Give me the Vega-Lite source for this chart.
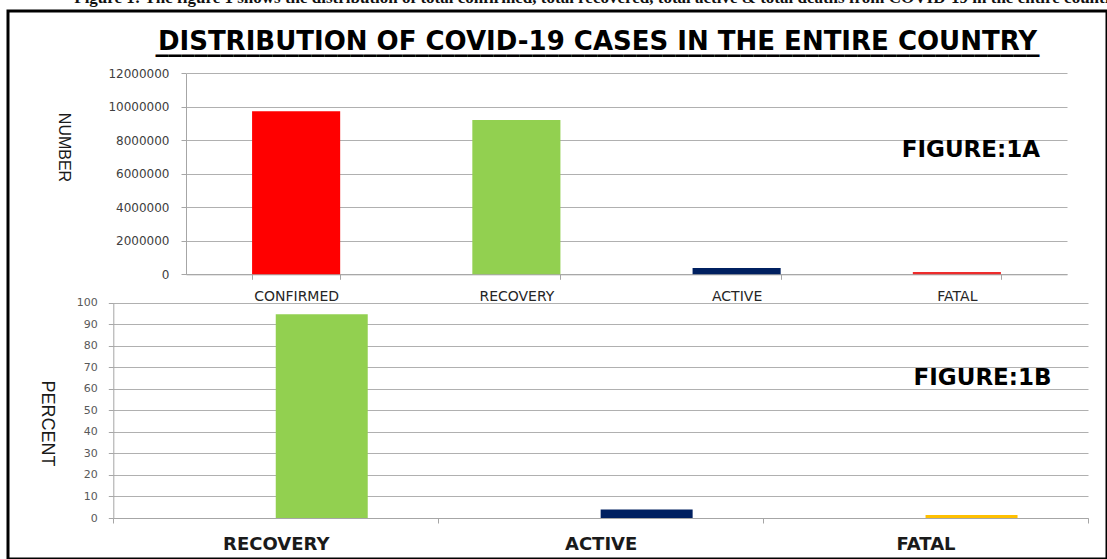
{
  "$schema": "https://vega.github.io/schema/vega-lite/v6.json",
  "width": 1099,
  "height": 548,
  "autosize": "none",
  "padding": {"left": 8, "top": 11, "right": 0, "bottom": 0},
  "background": "white",
  "config": {
    "view": {"stroke": "black", "strokeWidth": 3},
    "axis": {
      "domainColor": "#a6a6a6",
      "tickColor": "#a6a6a6",
      "gridColor": "#b0b0b0",
      "gridWidth": 1,
      "tickSize": 5,
      "labelFont": "DejaVu Sans",
      "titleFont": "Liberation Sans",
      "titleFontWeight": "normal",
      "titleColor": "#1a1a1a"
    }
  },
  "title": {
    "text": "Figure 1: The figure 1 shows the distribution of total confirmed, total recovered, total active & total deaths from COVID-19 in the entire country",
    "subtitle": [
      "DISTRIBUTION OF COVID-19 CASES IN THE ENTIRE COUNTRY",
      "____________________________________________________________________"
    ],
    "anchor": "middle",
    "frame": "group",
    "orient": "top",
    "dx": 40,
    "offset": -46,
    "font": "Liberation Serif",
    "fontSize": 17,
    "fontWeight": "bold",
    "color": "#111111",
    "subtitleFont": "DejaVu Sans",
    "subtitleFontSize": 26,
    "subtitleFontWeight": "bold",
    "subtitleColor": "#000000",
    "subtitleLineHeight": 1,
    "subtitlePadding": 22
  },
  "datasets": {
    "counts": [
      {"case": "CONFIRMED", "count": 9735850},
      {"case": "RECOVERY", "count": 9215581},
      {"case": "ACTIVE", "count": 378909},
      {"case": "FATAL", "count": 141360}
    ],
    "percent": [
      {"case": "RECOVERY", "pct": 94.66},
      {"case": "ACTIVE", "pct": 3.89},
      {"case": "FATAL", "pct": 1.45}
    ]
  },
  "layer": [
    {
      "layer": [
        {
          "data": {"name": "counts"},
          "mark": {"type": "bar"},
          "encoding": {
            "x": {
              "field": "case",
              "type": "nominal",
              "sort": ["CONFIRMED", "RECOVERY", "ACTIVE", "FATAL"],
              "scale": {"range": [178, 1059], "paddingInner": 0.6, "paddingOuter": 0.3},
              "axis": {
                "orient": "bottom",
                "offset": -284.7,
                "title": null,
                "labelAngle": 0,
                "tickBand": "extent",
                "labelFontSize": 14,
                "labelColor": "#262626",
                "labelPadding": 10,
                "labelBaseline": "top"
              }
            },
            "y": {
              "field": "count",
              "type": "quantitative",
              "scale": {"domain": [0, 12000000], "range": [263.3, 62.3], "nice": false, "zero": true},
              "axis": {
                "orient": "left",
                "offset": -178,
                "values": [0, 2000000, 4000000, 6000000, 8000000, 10000000, 12000000],
                "format": "d",
                "grid": true,
                "labelFontSize": 12,
                "labelColor": "#404040",
                "labelPadding": 12,
                "title": "NUMBER",
                "titleAngle": 90,
                "titleFontSize": 16,
                "titleX": -123,
                "titleY": 136,
                "titleAlign": "center",
                "titleBaseline": "middle"
              }
            },
            "color": {
              "field": "case",
              "type": "nominal",
              "scale": {
                "domain": ["CONFIRMED", "RECOVERY", "ACTIVE", "FATAL"],
                "range": ["#ff0000", "#92d050", "#002060", "#ee2c2c"]
              },
              "legend": null
            }
          }
        },
        {
          "data": {"values": [{"label": "FIGURE:1A"}]},
          "mark": {"type": "text", "font": "DejaVu Sans", "fontWeight": "bold", "fontSize": 23, "align": "center", "baseline": "middle", "dx": 14, "color": "#000000"},
          "encoding": {
            "x": {"datum": "FATAL", "type": "nominal"},
            "y": {"datum": 7400000, "type": "quantitative"},
            "text": {"field": "label", "type": "nominal"}
          }
        }
      ]
    },
    {
      "layer": [
        {
          "data": {"name": "percent"},
          "mark": {"type": "bar"},
          "encoding": {
            "x": {
              "field": "case",
              "type": "nominal",
              "sort": ["RECOVERY", "ACTIVE", "FATAL"],
              "scale": {"range": [105.3, 1080], "paddingInner": 0, "paddingOuter": 0},
              "axis": {
                "orient": "bottom",
                "offset": -41,
                "title": null,
                "labelAngle": 0,
                "tickBand": "extent",
                "labelFontSize": 18,
                "labelFontWeight": "bold",
                "labelColor": "#1a1a1a",
                "labelPadding": 12,
                "labelBaseline": "top"
              }
            },
            "xOffset": {
              "datum": "PERCENT",
              "type": "nominal",
              "scale": {"domain": ["NUMBER", "PERCENT"], "paddingInner": 0, "paddingOuter": 0.766}
            },
            "y": {
              "field": "pct",
              "type": "quantitative",
              "scale": {"domain": [0, 100], "range": [507, 291.7], "nice": false},
              "axis": {
                "orient": "left",
                "offset": -105.3,
                "values": [0, 10, 20, 30, 40, 50, 60, 70, 80, 90, 100],
                "grid": true,
                "labelFontSize": 11,
                "labelColor": "#595959",
                "labelPadding": 11,
                "title": "PERCENT",
                "titleAngle": 90,
                "titleFontSize": 18,
                "titleX": -67,
                "titleY": 412,
                "titleAlign": "center",
                "titleBaseline": "middle"
              }
            },
            "color": {
              "field": "case",
              "type": "nominal",
              "scale": {
                "domain": ["RECOVERY", "ACTIVE", "FATAL"],
                "range": ["#92d050", "#002060", "#ffc000"]
              },
              "legend": null
            }
          }
        },
        {
          "data": {"values": [{"label": "FIGURE:1B"}]},
          "mark": {"type": "text", "font": "DejaVu Sans", "fontWeight": "bold", "fontSize": 23, "align": "center", "baseline": "middle", "dx": 57, "color": "#000000"},
          "encoding": {
            "x": {"datum": "FATAL", "type": "nominal"},
            "y": {"datum": 65, "type": "quantitative"},
            "text": {"field": "label", "type": "nominal"}
          }
        }
      ]
    }
  ],
  "resolve": {
    "scale": {"x": "independent", "y": "independent", "color": "independent", "xOffset": "independent"},
    "axis": {"x": "independent", "y": "independent"}
  }
}
